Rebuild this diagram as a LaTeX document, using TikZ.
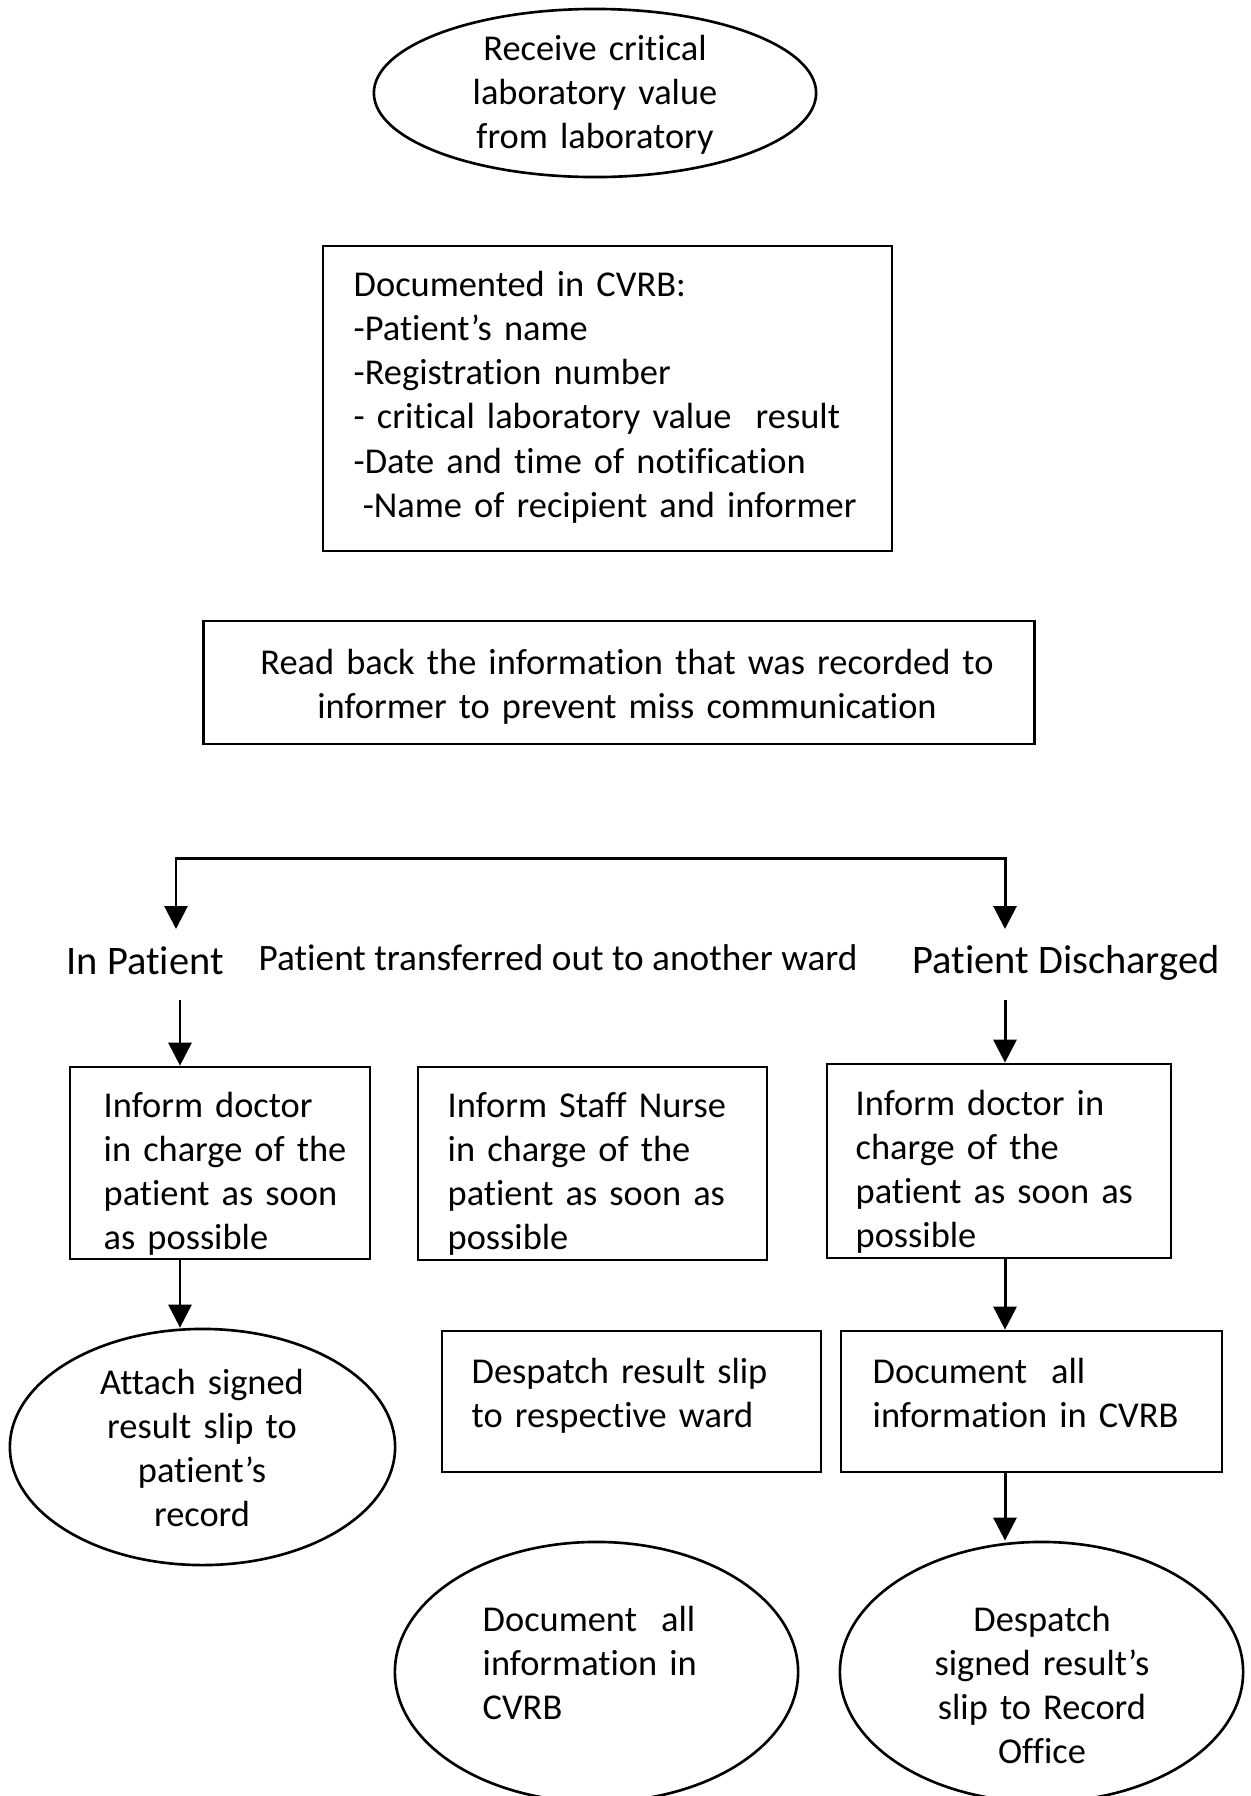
\documentclass[tikz,border=0pt]{standalone}
\usepackage{fontspec}
\setmainfont{Carlito}[Ligatures=NoCommon]
\usetikzlibrary{shapes.geometric,arrows.meta}
\begin{document}
\begin{tikzpicture}[x=0.01cm,y=-0.01cm,
  every node/.style={font=\fontsize{10.35}{12.6}\selectfont},
  shapeline/.style={draw,line width=0.75pt,inner sep=0pt},
  box/.style={shapeline,rectangle},
  oval/.style={shapeline,ellipse},
  txt/.style={inner sep=0pt,anchor=base west,align=left,text width=6cm},
  ctxt/.style={inner sep=0pt,anchor=base,align=center,text width=4cm},
  plainlabel/.style={inner sep=0pt,anchor=base west,font=\fontsize{10.6}{12.8}\selectfont},
  biglabel/.style={inner sep=0pt,anchor=base west,font=\fontsize{11.5}{13.8}\selectfont},
  flow/.style={line width=0.85pt,-{Triangle[width=0.23cm,length=0.23cm]}},
  flowboth/.style={line width=0.85pt,{Triangle[width=0.23cm,length=0.23cm]}-{Triangle[width=0.23cm,length=0.23cm]}}
]
\useasboundingbox (0,0) rectangle (1251,1796);

% shapes
\node[oval,minimum width=4.42cm,minimum height=1.68cm] (recv) at (595,93) {};
\node[box,minimum width=5.69cm,minimum height=3.05cm] (cvrb) at (607.5,398.5) {};
\node[box,minimum width=8.30cm,minimum height=1.23cm] (readback) at (619,682.5) {};
\node[box,minimum width=3.00cm,minimum height=1.92cm] (boxL) at (220,1163) {};
\node[box,minimum width=3.49cm,minimum height=1.93cm] (boxM) at (592.5,1163.5) {};
\node[box,minimum width=3.44cm,minimum height=1.94cm] (boxR) at (999,1161) {};
\node[oval,minimum width=3.85cm,minimum height=2.36cm] (ellL) at (202.5,1447) {};
\node[box,minimum width=3.79cm,minimum height=1.41cm] (slipbox) at (631.5,1401.5) {};
\node[box,minimum width=3.81cm,minimum height=1.41cm] (docbox) at (1031.5,1401.5) {};
\node[oval,minimum width=4.03cm,minimum height=2.60cm] (ellM) at (596.5,1672) {};
\node[oval,minimum width=4.03cm,minimum height=2.60cm] (ellR) at (1041.5,1672) {};

% texts
\node[ctxt] (recvtext) at (595,60) {Receive critical\\laboratory value\\from laboratory};
\node[txt] (cvrbtext) at (353,296) {Documented in CVRB:\\-Patient’s name\\-Registration number\\- critical laboratory value~ result\\-Date and time of notification\\\hspace*{0.25em}-Name of recipient and informer};
\node[ctxt,text width=8cm] (readtext) at (627,674) {Read back the information that was recorded to\\informer to prevent miss communication};
\node[biglabel] (inpat) at (66,974) {In Patient};
\node[plainlabel] (transfer) at (258,970) {Patient transferred out to another ward};
\node[biglabel] (discharged) at (912,973) {Patient Discharged};
\node[txt] (boxLtext) at (103,1117) {Inform doctor\\in charge of the\\patient as soon\\as possible};
\node[txt] (boxMtext) at (447,1117) {Inform Staff Nurse\\in charge of the\\patient as soon as\\possible};
\node[txt] (boxRtext) at (855,1115) {Inform doctor in\\charge of the\\patient as soon as\\possible};
\node[ctxt] (ellLtext) at (202,1394) {Attach signed\\result slip to\\patient’s\\record};
\node[txt] (sliptext) at (471,1383) {Despatch result slip\\to respective ward};
\node[txt] (doctext) at (872,1383) {Document~ all\\information in CVRB};
\node[txt] (ellMtext) at (482,1631) {Document~ all\\information in\\CVRB};
\node[ctxt] (ellRtext) at (1042,1631) {Despatch\\signed result’s\\slip to Record\\Office};

% branching connector
\coordinate (brL) at (176,858);
\coordinate (brR) at (1005,858);
\coordinate (tipL) at (176,929);
\coordinate (tipR) at (1005,929);
\draw[flowboth] (tipL) -- (brL) -- (brR) -- (tipR);

% vertical flows
\coordinate (inL) at (180,1000);
\coordinate (disR) at (1005,1000);
\draw[flow] (inL) -- (boxL.north -| inL);
\draw[flow] (disR) -- (boxR.north -| disR);
\draw[flow] (boxL.south -| inL) -- (ellL.north -| inL);
\draw[flow] (boxR.south -| disR) -- (docbox.north -| disR);
\draw[flow] (docbox.south -| disR) -- (ellR.north -| disR);
\end{tikzpicture}
\end{document}
